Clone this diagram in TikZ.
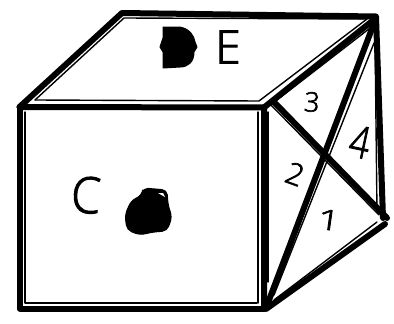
\documentclass[tikz,border=0pt]{standalone}
\usepackage{fontspec}
\setmainfont[AutoFakeBold=2.2]{Open Sans Light}
\tikzset{
  thick line/.style={line width=6pt,line cap=round,line join=round},
  thin line/.style={line width=1.4pt,line cap=round,line join=round},
  blob/.style={fill=black,draw=black,line width=1pt,line join=round},
  hand/.style={inner sep=0pt,text=black,font=\fontsize{#1}{#1}\selectfont\bfseries}
}
\begin{document}
\begin{tikzpicture}[x=1pt,y=-1pt]
\useasboundingbox (0,0) rectangle (394,324);
% thin inner lines
\draw[thin line] (25,112) -- (25,303) -- (257,303);
\draw[thin line] (258,112) -- (258,303);
\draw[thin line] (35,100) -- (124,18) -- (367,19);
\draw[thin line] (35,100) -- (259,101) -- (367,19);
\draw[thin line] (268,112) -- (268,282);
\draw[thin line] (277,100) -- (374,25);
\draw[thin line] (375,35) -- (377,212);
\draw[thin line] (374,43) -- (274,295);
\draw[thin line] (271,105) -- (379,215);
\draw[thin line] (274,300) -- (377,222);
% thick outer lines
\draw[thick line] (19.5,107) -- (122,13) -- (376,16.5) -- (383,218);
\draw[thick line] (19.5,107) -- (19.5,308.5) -- (264,308.5);
\draw[thick line] (19.5,107) -- (264,107.5) -- (264,308.5);
\draw[thick line] (264,107.5) -- (376,18);
\draw[thick line] (376,18) -- (266,308);
\draw[thick line] (274,102) -- (387,218);
\draw[thick line] (266,309) -- (385,224);
% blobs
\fill[blob] (163,27) -- (180,27) .. controls (190,29) and (194,36) .. (195,42)
  -- (197,47) -- (194,52) .. controls (194,62) and (188,67) .. (180,67)
  -- (163,68) -- (163,52) -- (160,47) -- (163,38) -- cycle;
\fill[blob,rounded corners=5pt] (143,188) -- (167,190) -- (168,205) -- (172,217) -- (167,231)
  -- (153,232) -- (140,235) -- (127,230) -- (125,215) -- (131,201) -- (142,195) -- cycle;
\fill[white] (158,193) -- (163,193) -- (165,197) -- cycle;
% labels
\node[hand=50,rotate=-3] (labC) at (86,195) {\scalebox{.95}[1]{C}};
\node[hand=46] (labE) at (228,47) {E};
\node[hand=27,rotate=-5] (lab3) at (312,102) {3};
\node[hand=44,rotate=-12] (lab4) at (360,142) {\scalebox{.8}[1]{4}};
\node[hand=30,rotate=-20] (lab2) at (295,174) {2};
\node[hand=28,rotate=-8] (lab1) at (329,220) {\scalebox{1.4}[1]{1}};
\end{tikzpicture}
\end{document}
